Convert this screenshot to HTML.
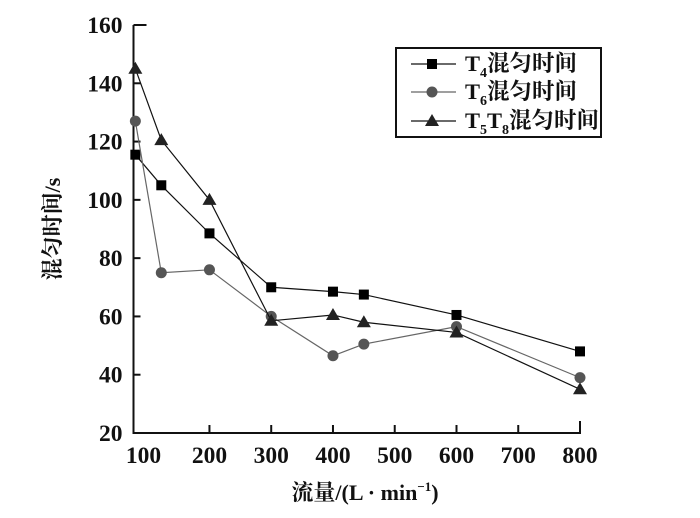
<!DOCTYPE html>
<html><head><meta charset="utf-8"><style>
body{margin:0;background:#fff}
svg text{font-family:"Liberation Serif","Noto Serif CJK SC",serif;font-weight:bold;fill:#111}
</style></head><body>
<svg id="c" width="700" height="513"></svg>
<script>
const xs=[80,122,200,300,400,450,600,800];
const t4=[115.5,105,88.5,70,68.5,67.5,60.5,48];
const t6=[127,75,76,60,46.5,50.5,56.5,39];
const t58=[145,120.5,100,58.5,60.5,58,54.5,35];
const xTicks=[200,300,400,500,600,700,800];
const xLabels=['100','200','300','400','500','600','700','800'];
const yTicks=[20,40,60,80,100,120,140,160];
const svg=document.getElementById('c');
const NS='http://www.w3.org/2000/svg';
const X0=133.5,X1=580,XMIN=77,XMAX=800,Y0=433,Y1=25,YMIN=20,YMAX=160;
function xp(v){return X0+(v-XMIN)/(XMAX-XMIN)*(X1-X0);}
function yp(v){return Y0-(v-YMIN)/(YMAX-YMIN)*(Y0-Y1);}
function el(t,a,p){const e=document.createElementNS(NS,t);for(const k in a)e.setAttribute(k,a[k]);(p||svg).appendChild(e);return e;}
let e;
e=el('path',{d:`M${X0} ${Y1} V${Y0} H${X1} V${Y0-12}`,stroke:'#111','stroke-width':2,fill:'none'});


el('line',{x1:X0,y1:Y1,x2:X0+13,y2:Y1,stroke:'#111','stroke-width':2});
yTicks.forEach(v=>{
 if(v>20&&v<160){const t=el('line',{x1:X0,y1:yp(v),x2:X0+7,y2:yp(v),stroke:'#111','stroke-width':2});
 
 }
 const l=el('text',{x:X0-11,y:yp(v)+8,'text-anchor':'end','font-size':23.5});l.textContent=v;
 
 
});
xTicks.forEach(v=>{
 if(v<800){const t=el('line',{x1:xp(v),y1:Y0,x2:xp(v),y2:Y0-8,stroke:'#111','stroke-width':2});
 
 }
});
xLabels.forEach((s,i)=>{
 const px=i==0?X0+10:xp(xTicks[i-1]);
 const l=el('text',{x:px,y:463,'text-anchor':'middle','font-size':23.5});l.textContent=s;
 
 
});
e=el('text',{x:365,y:500,'text-anchor':'middle','font-size':22});
e.innerHTML='流量/(L · min<tspan font-size="13" dy="-9">−1</tspan><tspan dy="9">)</tspan>';


e=el('text',{x:0,y:0,'text-anchor':'middle','font-size':22,transform:'translate(60,229) rotate(-90)'});
e.textContent='混匀时间/s';


function marker(type,x,y,col,g){
 if(type=='s')return el('rect',{x:x-5,y:y-5,width:10,height:10,fill:col},g);
 if(type=='c')return el('circle',{cx:x,cy:y,r:5.5,fill:col},g);
 return el('path',{d:`M${x} ${y-7}L${x+7} ${y+5}L${x-7} ${y+5}Z`,fill:col},g);
}
const series=[[t4,'s','#000','#111','series-t4'],[t6,'c','#555','#666','series-t6'],[t58,'t','#222','#111','series-t5t8']];
series.forEach(([d,m,col,lc,name])=>{
 const g=el('g',{});
 
 
 el('polyline',{points:d.map((v,i)=>xp(xs[i])+','+yp(v)).join(' '),fill:'none',stroke:lc,'stroke-width':1.2},g);
 d.forEach((v,i)=>{const p=marker(m,xp(xs[i]),yp(v),col,g);
  
  });
});
const lg=el('g',{});


el('rect',{x:396,y:48,width:205,height:89,fill:'#fff',stroke:'#111','stroke-width':2},lg);
const names=['T<tspan font-size="14" dy="6">4</tspan><tspan dy="-6">混匀时间</tspan>','T<tspan font-size="14" dy="6">6</tspan><tspan dy="-6">混匀时间</tspan>','T<tspan font-size="14" dy="6">5</tspan><tspan dy="-6">T</tspan><tspan font-size="14" dy="6">8</tspan><tspan dy="-6">混匀时间</tspan>'];
[64,92,121].forEach((y,i)=>{
 const s=series[i];
 el('line',{x1:411,y1:y,x2:456,y2:y,stroke:s[3],'stroke-width':1.2},lg);
 marker(s[1],432,y,s[2],lg);
 const t=el('text',{x:465,y:y+7,'font-size':22.5},lg);t.innerHTML=names[i];
 
 
});
</script>
</body></html>
